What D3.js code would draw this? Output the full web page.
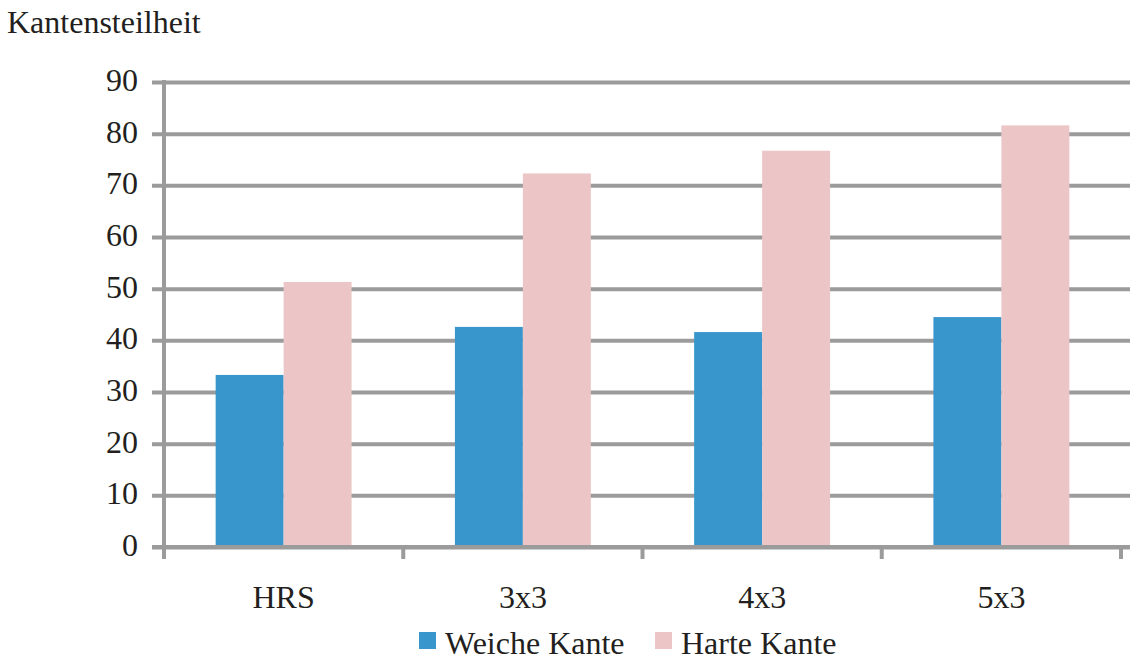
<!DOCTYPE html>
<html>
<head>
<meta charset="utf-8">
<script src="https://cdn.jsdelivr.net/npm/d3@7"></script>
<style>
  html, body { margin: 0; padding: 0; background: #fff; }
  svg { display: block; }
  text { font-family: "Liberation Serif", "Times New Roman", serif; fill: #231f20; }
</style>
</head>
<body>
<svg id="chart" width="1130" height="664"></svg>
<script>
// Kantensteilheit je Verfahren
const categories = ["HRS", "3x3", "4x3", "5x3"];
const seriesNames = ["Weiche Kante", "Harte Kante"];
const weicheKante = [33.3, 42.6, 41.6, 44.5];
const harteKante = [51.3, 72.3, 76.7, 81.6];
const yTicks = [0, 10, 20, 30, 40, 50, 60, 70, 80, 90];
const yTitle = "Kantensteilheit";
const colors = ["#3896cc", "#ecc6c6"];

const rows = categories.map((c, i) => ({ cat: c, values: [weicheKante[i], harteKante[i]] }));

const svg = d3.select("#chart");
const W = 1130;
const fontSize = 32;
const gridColor = "#9b9b9b";

const plotLeft = 164, plotRight = 1121, plotTop = 82, plotBottom = 547;

const y = d3.scaleLinear().domain([0, 90]).range([plotBottom, plotTop]);
const x = d3.scaleBand().domain(categories).range([plotLeft, plotRight]).paddingInner(0).paddingOuter(0);
const xs = d3.scaleBand().domain(seriesNames).range([0, x.bandwidth()]).paddingInner(0).paddingOuter(0.76);

// Horizontal grid lines with tick labels
const yAxis = d3.axisLeft(y).tickValues(yTicks).tickSize(-(W - 152)).tickPadding(14).tickFormat(d3.format("d"));
const gy = svg.append("g").attr("transform", "translate(152,0)").call(yAxis);
gy.select(".domain").remove();
gy.selectAll(".tick line").attr("stroke", gridColor).attr("stroke-width", 4);
gy.selectAll(".tick text")
  .attr("font-size", fontSize)
  .attr("fill", "#231f20")
  .attr("dy", "0.27em");

// Bars
const groups = svg.append("g").selectAll("g")
  .data(rows).join("g")
  .attr("transform", d => `translate(${x(d.cat)},0)`);
groups.selectAll("rect")
  .data(d => d.values.map((v, i) => ({ key: seriesNames[i], v, i })))
  .join("rect")
  .attr("x", d => xs(d.key))
  .attr("width", xs.bandwidth())
  .attr("y", d => y(d.v))
  .attr("height", d => y(0) - y(d.v))
  .attr("fill", d => colors[d.i]);

// Vertical axis line
svg.append("line")
  .attr("x1", plotLeft).attr("x2", plotLeft)
  .attr("y1", y(90) - 2).attr("y2", plotBottom + 12)
  .attr("stroke", gridColor).attr("stroke-width", 4);

// Category axis: baseline and ticks at band boundaries
svg.append("line")
  .attr("x1", 152).attr("x2", W)
  .attr("y1", y(0)).attr("y2", y(0))
  .attr("stroke", gridColor).attr("stroke-width", 4);
const bounds = categories.map(c => x(c)).concat([x.range()[1]]);
svg.append("g").selectAll("line")
  .data(bounds).join("line")
  .attr("x1", d => d).attr("x2", d => d)
  .attr("y1", y(0)).attr("y2", y(0) + 12)
  .attr("stroke", gridColor).attr("stroke-width", 4);

svg.append("g").selectAll("text")
  .data(categories).join("text")
  .attr("font-size", fontSize)
  .attr("text-anchor", "middle")
  .attr("x", d => x(d) + x.bandwidth() / 2)
  .attr("y", 608)
  .text(d => d);

// Axis title
svg.append("text")
  .attr("font-size", fontSize)
  .attr("x", 7).attr("y", 33)
  .text(yTitle);

// Legend
const legendX = [419, 655];
const lg = svg.append("g").selectAll("g")
  .data(seriesNames).join("g")
  .attr("transform", (d, i) => `translate(${legendX[i]},632)`);
lg.append("rect").attr("width", 17).attr("height", 17).attr("fill", (d, i) => colors[i]);
lg.append("text")
  .attr("font-size", fontSize)
  .attr("x", 26).attr("y", 22)
  .text(d => d);
</script>
</body>
</html>
